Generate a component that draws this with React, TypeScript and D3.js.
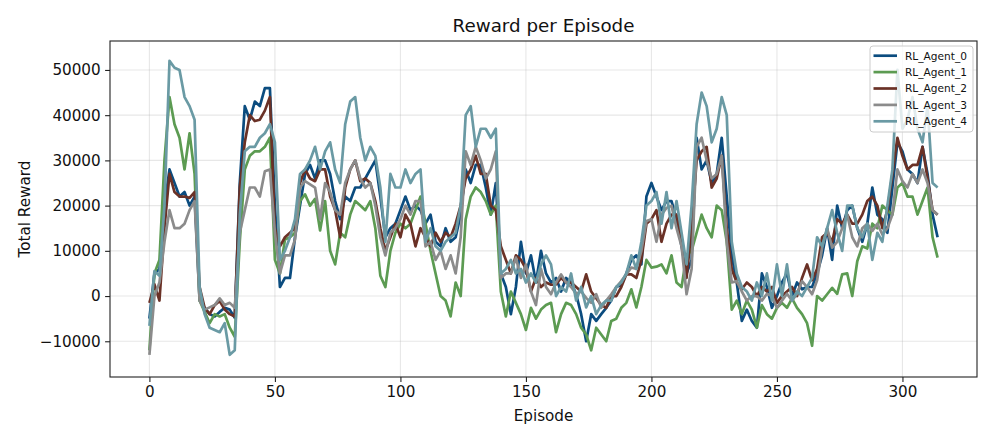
/**
 * Reward per Episode — five RL agents, total reward per episode
 */
import { useEffect, useRef } from 'react';
import * as d3 from 'd3';

// episode index (sampled every 2 episodes, 0..314)
const EPISODES = d3.range(0, 315, 2);

// total reward per agent, in thousands
const AGENT_0 = [
  -5, 5, 6, 20, 28, 25, 22, 23, 20, 22,
  -1, -2.6, -4, -4.5, -3.5, -2.6, -3, -4.8, 25, 42,
  39, 43, 42, 46, 46, 20, 2, 4, 4, 13,
  20, 27, 29, 26, 30, 30, 27, 21, 17, 22,
  21, 24, 24, 26, 28, 30, 22, 13, 15, 16,
  19, 22, 19, 20, 19, 16, 18, 12, 11, 15,
  12, 13, 18, 28, 25, 29, 29, 24, 18, 25,
  5, 2, -4, 2, 12, 5, 9, 3, 10, 5,
  3, 4, 1, 4, 3, 0.4, -4, -10, -4, -5.5,
  -4, -2.6, -1, 2, 2.5, 5, 8, 9, 7, 22,
  25, 22, 19, 21, 21, 17, 11, 5, 8, 35,
  28, 30, 25, 27, 35, 22, 9, 3, -5.5, -3,
  -5.5, -7, 5, 2, -2.6, 0, 3, 5, 0, 3,
  1.5, 2, 2, 5, 9, 15, 8, 20, 15, 19,
  20, 15, 12, 16, 24, 18, 17, 14, 24, 34,
  32, 28, 27, 25, 33, 27, 18, 13,
];
const AGENT_1 = [
  -12, 5, 8, 30, 44, 38, 35, 28, 36, 27,
  -1, -3.5, -6, -4, -4.5, -4, -7, -9, 12, 28,
  31, 32, 32, 33, 35, 8, 5, 12.5, 13, 14,
  21, 22.5, 20, 21.5, 14.5, 21, 10, 7, 14, 13,
  18, 21, 20, 19, 21, 15, 4.5, 2, 10, 14,
  16, 15, 16, 19, 22, 16, 10, 5, 0, -1,
  -4.5, 3, 0, 17, 22, 24, 23, 21, 18, 20,
  1, -4.5, 1, -1.5, -4, -7.5, -2.6, -5, -3, -2,
  -1.5, -8, -4, -1.5, -2, -4, -7, -8.5, -12, -7,
  -8.5, -10, -5.5, -5, -2.6, -1.5, 1.5, -2.5, 2, 8,
  6.3, 6.5, 7, 5, 9, 3, 2, 9, 10, 14,
  18, 15, 13, 20, 19, 12, -3, -1, -4, -1,
  -3, -7, -2, -4, -5, -2.6, -1.5, -2.6, -0.5, -2.6,
  -4, -6, -11, 0, -1, 0.4, 1.8, 0.5, 4.8, 5,
  0, 7.7, 11, 10.5, 16, 15, 20, 19, 18, 24,
  25, 22, 22, 18, 21, 24, 13, 8.5,
];
const AGENT_2 = [
  -1.5, 2.6, -1, 15, 27, 23, 22, 22, 21.7, 23,
  2, -2.6, -4, -2, -1.1, -3, -4, -4.5, 24, 34,
  40, 38.7, 39, 41, 44, 15, 11, 13, 14, 15,
  25, 28, 26, 25.4, 28, 28, 22, 19, 13, 24,
  28, 30, 25.4, 26, 25, 21, 15, 10, 13, 16,
  13, 18, 16, 11, 15, 13, 11, 14, 12, 14,
  13, 16, 20, 26, 28, 31, 27, 27, 20, 19,
  11, 8, 5, 9, 8, 6, 1, 4, 2, 3,
  2.5, 2.6, 4, 3, 3, 2, 1, 4.8, 1, -0.5,
  -2, -2.6, 0, 0, 2, 4.8, 4.8, 4, 8, 16,
  17, 19, 12, 16, 18, 18, 12, 4, 15, 30,
  32, 33, 24, 26, 31, 15, 6, 3, 1.5, 3,
  2, 0, 2, 1, 2, -1.5, 0, 1, 2, 0,
  4, 7, 3.5, 6, 13, 14, 12, 17, 16, 18,
  16, 16, 18, 21, 22, 20, 15, 19, 27, 35,
  31, 28, 29, 29, 33, 26, 19, 18,
];
const AGENT_3 = [
  -13, 0, 3, 12, 19, 15, 15, 16, 19, 21,
  -1, -3, -2.5, -2, -0.5, -2, -1.5, -2.6, 14, 19,
  24, 24, 22, 27.6, 28, 14, 5, 9, 9, 12.5,
  24, 25.4, 24.7, 24, 17, 25, 23, 19, 18, 25,
  28, 30, 26, 24, 25, 20, 13, 9, 14, 15,
  17, 20, 18, 21, 21, 11, 12, 8, 10, 6,
  9, 5, 13, 32, 29, 33, 30, 26, 28, 32,
  4, 5, 5, 8.5, 4, 7, 1, -2, 6, 2,
  0.4, 3, 4.8, 3, 2, 0.5, 1, -0.4, -1.5, 0.4,
  -2.6, -1, 0.4, 2, 3.3, 4.8, 6.3, 6, 10, 16.6,
  17, 12, 18, 19.5, 20, 15, 11, 0.4, 6, 33,
  35, 30, 26, 27, 31, 12, 3, 3.3, 1, -1,
  0, 0, -1, 0.5, 0, -2.6, -1, 0.5, -1, 0.5,
  3.3, 2, 0.4, 3.5, 10.7, 15, 10.7, 12, 15, 18,
  13, 11, 15, 16, 14.4, 16, 13.6, 15, 18, 28,
  25.4, 24, 27, 25, 28, 25, 19, 18,
];
const AGENT_4 = [
  -6.6, 5.5, 4.5, 20, 52, 50.5, 50, 44, 42, 39,
  2, -4, -7, -7.5, -8, -6, -13, -12, 18, 32,
  33, 33, 35, 36, 38, 34, 8, 10, 13, 17,
  27, 28, 30, 33, 28, 32, 34, 28, 25, 38,
  43, 44, 35, 30, 33, 31, 24, 12, 27, 24,
  24, 28, 25, 27, 28, 12, 15, 11, 10, 12,
  13, 14, 20, 40, 42, 33, 37, 37, 35, 37,
  5, 6, 8, 5, 6, 3, 5, 3, 7, 9,
  7, 0, 2, 1, 5, -1, 2, -2.5, 0, -4,
  -2, -1, -1, 2, 3, 5, 9, 6, 12, 20,
  21, 23, 16, 23, 15, 21, 14, 7, 20, 38,
  45, 42, 34, 37, 44, 40, 12, 5, 2, 1,
  -1, 3, 0, 5, -1, 7, 0, 7, -1, 1,
  0, 2, 4, 13, 11, 15, 19, 14, 10, 20,
  20, 15, 13, 16, 8, 14, 12, 20, 28, 50,
  37, 39, 44, 37, 34, 42, 25, 24,
];

const AGENT_NAMES = ['RL_Agent_0', 'RL_Agent_1', 'RL_Agent_2', 'RL_Agent_3', 'RL_Agent_4'];
const AGENT_VALUES = [AGENT_0, AGENT_1, AGENT_2, AGENT_3, AGENT_4];
const AGENT_COLORS = ['#0b4c7f', '#5c9b52', '#6a3126', '#8b8b8b', '#6a9aa4'];

const X_TICKS = [0, 50, 100, 150, 200, 250, 300];
const Y_TICKS = [-10000, 0, 10000, 20000, 30000, 40000, 50000];

const FONT = '"DejaVu Sans", sans-serif';

export default function App() {
  const svgRef = useRef<SVGSVGElement>(null);
  const width = 994;
  const height = 442;

  useEffect(() => {
    if (!svgRef.current) return;
    const svg = d3.select(svgRef.current);
    svg.selectAll('*').remove();

    const margin = { top: 41, right: 17, bottom: 65, left: 110 };
    const plotW = width - margin.left - margin.right;
    const plotH = height - margin.top - margin.bottom;

    const xScale = d3.scaleLinear().domain([-15.7, 329.7]).range([0, plotW]);
    const yScale = d3.scaleLinear().domain([-17900, 56400]).range([plotH, 0]);

    svg.append('rect').attr('width', width).attr('height', height).attr('fill', '#fff');

    const g = svg.append('g').attr('transform', `translate(${margin.left},${margin.top})`);

    // ── grid ──
    g.append('g')
      .selectAll('line')
      .data(X_TICKS)
      .enter()
      .append('line')
      .attr('x1', (d) => xScale(d))
      .attr('x2', (d) => xScale(d))
      .attr('y1', 0)
      .attr('y2', plotH)
      .attr('stroke', '#b0b0b0')
      .attr('stroke-opacity', 0.3)
      .attr('stroke-width', 1.1);
    g.append('g')
      .selectAll('line')
      .data(Y_TICKS)
      .enter()
      .append('line')
      .attr('x1', 0)
      .attr('x2', plotW)
      .attr('y1', (d) => yScale(d))
      .attr('y2', (d) => yScale(d))
      .attr('stroke', '#b0b0b0')
      .attr('stroke-opacity', 0.3)
      .attr('stroke-width', 1.1);

    // ── series ──
    const line = d3.line<number>()
      .x((_, i) => xScale(EPISODES[i]))
      .y((d) => yScale(d * 1000));

    AGENT_VALUES.forEach((vals, i) => {
      g.append('path')
        .datum(vals)
        .attr('d', line)
        .attr('fill', 'none')
        .attr('stroke', AGENT_COLORS[i])
        .attr('stroke-width', 2.7)
        .attr('stroke-linejoin', 'round');
    });

    // ── axes ──
    const fmtY = (v: number) => (v < 0 ? '\u2212' + Math.abs(v) : String(v));
    const xAxis = g.append('g')
      .attr('transform', `translate(0,${plotH})`)
      .call(d3.axisBottom(xScale).tickValues(X_TICKS).tickSize(4.9).tickPadding(4).tickFormat((d) => String(d)));
    const yAxis = g.append('g')
      .call(d3.axisLeft(yScale).tickValues(Y_TICKS).tickSize(4.9).tickPadding(4.4).tickFormat((d) => fmtY(+d)));

    [xAxis, yAxis].forEach((ax) => {
      ax.select('.domain').remove();
      ax.selectAll('.tick line').attr('stroke', '#222').attr('stroke-width', 1.1);
      ax.selectAll('.tick text')
        .attr('fill', '#111')
        .attr('font-family', FONT)
        .attr('font-size', '15.2px');
    });

    // frame
    g.append('rect')
      .attr('width', plotW)
      .attr('height', plotH)
      .attr('fill', 'none')
      .attr('stroke', '#222')
      .attr('stroke-width', 1.1);

    // ── legend ──
    const lg = g.append('g').attr('transform', `translate(${plotW - 107},5)`);
    lg.append('rect')
      .attr('width', 103)
      .attr('height', 86)
      .attr('rx', 3)
      .attr('fill', '#fff')
      .attr('fill-opacity', 0.8)
      .attr('stroke', '#cccccc')
      .attr('stroke-width', 1);
    AGENT_NAMES.forEach((name, i) => {
      const y = 9.7 + i * 16.4;
      lg.append('line')
        .attr('x1', 3.5)
        .attr('x2', 27)
        .attr('y1', y)
        .attr('y2', y)
        .attr('stroke', AGENT_COLORS[i])
        .attr('stroke-width', 2.7);
      lg.append('text')
        .attr('x', 35)
        .attr('y', y)
        .attr('dy', '0.36em')
        .attr('fill', '#111')
        .attr('font-family', FONT)
        .attr('font-size', '10.6px')
        .text(name);
    });

    // ── labels ──
    svg.append('text')
      .attr('x', margin.left + plotW / 2)
      .attr('y', 32)
      .attr('text-anchor', 'middle')
      .attr('fill', '#111')
      .attr('font-family', FONT)
      .attr('font-size', '18.3px')
      .text('Reward per Episode');

    svg.append('text')
      .attr('x', margin.left + plotW / 2)
      .attr('y', 421)
      .attr('text-anchor', 'middle')
      .attr('fill', '#111')
      .attr('font-family', FONT)
      .attr('font-size', '15.2px')
      .text('Episode');

    svg.append('text')
      .attr('transform', 'rotate(-90)')
      .attr('x', -(margin.top + plotH / 2))
      .attr('y', 30)
      .attr('text-anchor', 'middle')
      .attr('fill', '#111')
      .attr('font-family', FONT)
      .attr('font-size', '15.2px')
      .text('Total Reward');
  }, []);

  return (
    <svg
      ref={svgRef}
      width={width}
      height={height}
      style={{ position: 'absolute', left: 0, top: 0, display: 'block' }}
    />
  );
}
